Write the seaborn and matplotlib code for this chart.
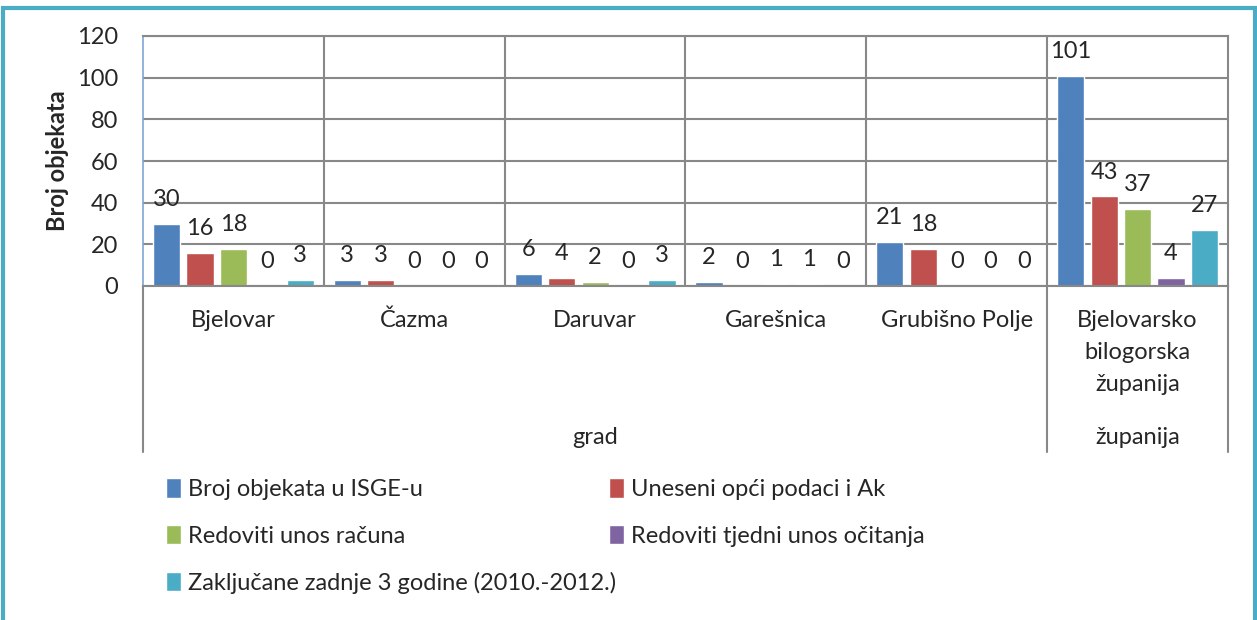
import pandas as pd
import matplotlib.pyplot as plt
import matplotlib.transforms as mtransforms
from matplotlib.patches import Rectangle
import seaborn as sns

# ------------------------ data ------------------------
categories = ["Bjelovar", "Čazma", "Daruvar", "Garešnica", "Grubišno Polje",
              "Bjelovarsko\nbilogorska\nžupanija"]
series = ["Broj objekata u ISGE-u", "Uneseni opći podaci i Ak", "Redoviti unos računa",
          "Redoviti tjedni unos očitanja", "Zaključane zadnje 3 godine (2010.-2012.)"]
broj_isge = [30, 3, 6, 2, 21, 101]
uneseni = [16, 3, 4, 0, 18, 43]
racuni = [18, 0, 2, 1, 0, 37]
ocitanja = [0, 0, 0, 1, 0, 4]
zakljucane = [3, 0, 3, 0, 0, 27]
groups = ["grad", "županija"]
group_span = [(0, 4), (5, 5)]
colors = ["#4F81BD", "#C0504D", "#9BBB59", "#8064A2", "#4BACC6"]

rows = []
for name, vals in zip(series, [broj_isge, uneseni, racuni, ocitanja, zakljucane]):
    for cat, v in zip(categories, vals):
        rows.append({"kategorija": cat, "serija": name, "vrijednost": v})
df = pd.DataFrame(rows)

# ------------------------ plot ------------------------
sns.set_style("white")
plt.rcParams["font.family"] = ["Lato", "DejaVu Sans"]
FS = 17

fig = plt.figure(figsize=(12.57, 6.2), dpi=100)
W, H = 1257, 620
ax = fig.add_axes([143 / W, 1 - 286 / H, (1228 - 143) / W, (286 - 36) / H])

sns.barplot(data=df, x="kategorija", y="vrijednost", hue="serija",
            palette=colors, width=0.925, gap=0.19, ax=ax, saturation=1)

for cont in ax.containers:
    ax.bar_label(cont, labels=[f"{b.get_height():g}" for b in cont],
                 padding=10, fontsize=FS)

ax.set_ylim(0, 120)
ax.set_yticks(range(0, 121, 20))
ax.set_xlim(-0.5, len(categories) - 0.5)
ax.set_xlabel("")
ax.set_ylabel("Broj objekata", fontsize=FS, fontweight="bold")
ax.yaxis.set_label_coords(-0.068, 0.5)
ax.tick_params(axis="y", length=0, pad=18, labelsize=FS)
ax.tick_params(axis="x", length=0, pad=17, labelsize=FS)
for lab in ax.get_xticklabels():
    lab.set_linespacing(1.66)

# grid: horizontal lines + category separators
grid_c = "#888888"
ax.yaxis.grid(True, color=grid_c, lw=1.5)
ax.set_xticks([i + 0.5 for i in range(len(categories) - 1)], minor=True)
ax.tick_params(axis="x", which="minor", length=0)
ax.xaxis.grid(True, which="minor", color=grid_c, lw=1.5)
ax.set_axisbelow(True)
for s in ["top", "bottom", "right"]:
    ax.spines[s].set_color(grid_c)
    ax.spines[s].set_linewidth(1.5)
ax.spines["left"].set_color("#7FA6D6")
ax.spines["left"].set_linewidth(1.2)

# second level of the category axis
trans = mtransforms.blended_transform_factory(ax.transData, ax.transAxes)
depth = -(452 - 286) / 250
for xs in [-0.5, 4.5, 5.5]:
    ax.plot([xs, xs], [0, depth], transform=trans, color=grid_c, lw=1.5, clip_on=False)
for g, (a, b) in zip(groups, group_span):
    ax.text((a + b) / 2, -(437 - 286) / 250, g, transform=trans, ha="center",
            va="center", fontsize=FS)

# legend, laid out like Excel (row-major, 2 columns)
handles, labels = ax.get_legend_handles_labels()
ax.get_legend().remove()
leg_kw = dict(frameon=False, fontsize=FS, handlelength=0.64, handleheight=0.9,
              handletextpad=0.28, labelspacing=1.05, borderpad=0, borderaxespad=0)
leg1 = fig.legend([handles[0], handles[2], handles[4]], [labels[0], labels[2], labels[4]],
                  loc="upper left", bbox_to_anchor=(166 / W, 1 - 478 / H), **leg_kw)
leg2 = fig.legend([handles[1], handles[3]], [labels[1], labels[3]],
                  loc="upper left", bbox_to_anchor=(609 / W, 1 - 478 / H), **leg_kw)

# outer frame of the chart
fig.patches.append(Rectangle((3 / W, -0.05), (1255 - 3) / W, 1.05 - 8 / H,
                             transform=fig.transFigure, fill=False,
                             edgecolor="#4BACC6", lw=3))

fig.savefig("out.png", dpi=100)
